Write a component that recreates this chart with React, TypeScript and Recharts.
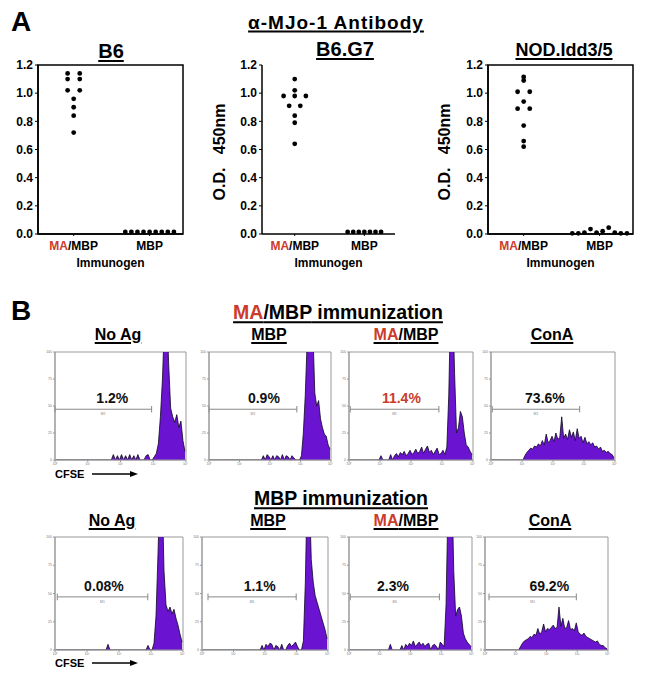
import React from 'react';
import {
  ScatterChart, Scatter, AreaChart, Area, XAxis, YAxis,
  ReferenceArea, ReferenceLine, ReferenceDot,
} from 'recharts';

const FONT = '"Liberation Sans", Arial, sans-serif';
const RED = '#cc3b2b';
const PURPLE = '#6a14d2';

// ---- panel A: anti-MJo-1 ELISA, O.D. 450nm per mouse ----
const immunogens = ['MA/MBP', 'MBP'];
const odTicks = [0, 0.2, 0.4, 0.6, 0.8, 1.0, 1.2];

const b6MaMbp = [1.14, 1.14, 1.10, 1.10, 1.02, 1.02, 0.96, 0.90, 0.84, 0.72];
const b6Mbp = [0.015, 0.015, 0.015, 0.015, 0.015, 0.015, 0.015, 0.015, 0.015];
const g7MaMbp = [1.10, 1.02, 0.98, 0.98, 0.98, 0.91, 0.91, 0.84, 0.79, 0.64];
const g7Mbp = [0.015, 0.015, 0.015, 0.015, 0.015, 0.015, 0.015];
const nodMaMbp = [1.115, 1.09, 1.01, 1.01, 0.94, 0.89, 0.89, 0.77, 0.66, 0.62];
const nodMbp = [0.005, 0.005, 0.01, 0.035, 0.01, 0.02, 0.045, 0.01, 0.005, 0.005];

// ---- panel B: CFSE histograms, 16 channels per decade (10^0 .. 10^4) ----
const decadeTicks = [0, 1, 2, 3, 4];
const decadeLabels = ['10\u2070', '10\u00b9', '10\u00b2', '10\u00b3', '10\u2074'];
const countTicks = [0, 25, 50, 75, 100];

const maNoAg = [
  0, 0, 0, 0, 0, 0, 0, 0, 0, 0, 0, 0, 0, 0, 0, 0,
  0, 0, 0, 0, 0, 0, 0, 0, 0, 0, 0, 0, 5, 0, 4, 0,
  5, 0, 4, 0, 5, 0, 4, 0, 5, 0, 0, 0, 4, 5, 0, 0,
  3, 6, 15, 40, 75, 130, 150, 90, 48, 40, 35, 42, 30, 36, 18, 8,
];
const maMbp = [
  0, 0, 0, 0, 0, 0, 0, 0, 0, 0, 0, 0, 0, 0, 0, 0,
  0, 0, 0, 0, 0, 0, 0, 0, 0, 0, 0, 0, 4, 0, 5, 3,
  0, 4, 0, 4, 3, 0, 5, 0, 4, 3, 0, 4, 2, 0, 0, 0,
  4, 25, 60, 110, 150, 150, 120, 62, 50, 55, 38, 30, 24, 22, 14, 10,
];
const maMaMbp = [
  0, 0, 0, 0, 0, 0, 0, 0, 0, 0, 0, 0, 0, 0, 0, 0,
  4, 0, 0, 0, 0, 5, 0, 4, 6, 3, 7, 5, 8, 4, 6, 9,
  5, 7, 10, 6, 8, 12, 6, 10, 13, 7, 9, 5, 8, 11, 5, 6,
  9, 5, 12, 60, 150, 150, 80, 25, 30, 45, 40, 25, 14, 12, 8, 5,
];
const maConA = [
  0, 0, 0, 0, 0, 0, 0, 0, 0, 0, 0, 0, 0, 0, 0, 0,
  0, 4, 7, 9, 11, 10, 13, 12, 15, 13, 18, 14, 24, 16, 18, 22,
  17, 25, 19, 21, 40, 20, 24, 19, 28, 21, 26, 18, 29, 20, 22, 16,
  21, 15, 17, 14, 16, 12, 13, 10, 12, 8, 9, 7, 8, 6, 5, 2,
];
const mbpNoAg = [
  0, 0, 0, 0, 0, 0, 0, 0, 0, 0, 0, 0, 0, 0, 0, 0,
  0, 0, 0, 0, 0, 0, 0, 0, 0, 0, 5, 0, 0, 0, 0, 0,
  0, 0, 0, 0, 0, 0, 0, 0, 0, 0, 0, 0, 0, 0, 4, 0,
  0, 6, 30, 85, 150, 150, 70, 40, 34, 38, 32, 36, 28, 22, 14, 7,
];
const mbpMbp = [
  0, 0, 0, 0, 0, 0, 0, 0, 0, 0, 0, 0, 0, 0, 0, 0,
  0, 0, 0, 0, 0, 0, 0, 0, 0, 0, 0, 0, 0, 0, 4, 0,
  5, 3, 6, 5, 0, 4, 3, 0, 5, 0, 0, 4, 6, 3, 5, 7,
  3, 0, 0, 8, 60, 150, 140, 80, 60, 48, 42, 36, 30, 24, 18, 10,
];
const mbpMaMbp = [
  0, 0, 0, 0, 0, 0, 0, 0, 0, 0, 0, 0, 0, 0, 0, 0,
  0, 0, 0, 0, 0, 5, 0, 0, 0, 0, 0, 4, 0, 5, 3, 6,
  4, 8, 3, 5, 7, 4, 6, 3, 5, 6, 0, 4, 5, 3, 0, 7,
  5, 3, 40, 130, 150, 150, 70, 30, 36, 38, 30, 15, 10, 7, 5, 3,
];
const mbpConA = [
  0, 0, 0, 0, 0, 0, 0, 0, 0, 0, 0, 0, 0, 0, 0, 0,
  0, 0, 3, 6, 8, 9, 10, 12, 11, 14, 13, 19, 14, 16, 23, 16,
  19, 18, 20, 22, 19, 20, 38, 21, 28, 19, 20, 26, 18, 19, 17, 24,
  16, 14, 13, 15, 12, 11, 10, 9, 8, 7, 8, 5, 4, 4, 2, 1,
];

// spread equal values sideways like a dot plot
function swarm(values: number[], cat: number, tol: number, step: number) {
  const order = values.map((v, i) => i).sort((a, b) => values[b] - values[a]);
  const groups: number[][] = [];
  order.forEach((i) => {
    const g = groups[groups.length - 1];
    if (g && Math.abs(values[g[0]] - values[i]) <= tol) g.push(i);
    else groups.push([i]);
  });
  return groups.flatMap((g) =>
    [...g].sort((a, b) => a - b).map((i, k) => ({
      x: cat + (k - (g.length - 1) / 2) * step,
      y: values[i],
    }))
  );
}

const T = ({ x, y, size, children, under, weight = 700, color = '#000', spacing = 0 }: any) => (
  <div
    style={{
      position: 'absolute', left: x, top: y, transform: 'translate(-50%, -50%)',
      fontSize: size, fontWeight: weight, color, whiteSpace: 'pre', lineHeight: 1,
      fontFamily: FONT, letterSpacing: spacing,
      textDecoration: under ? 'underline' : 'none',
      textDecorationThickness: 2, textUnderlineOffset: 2,
    }}
  >
    {children}
  </div>
);

const MaMbp = () => (
  <>
    <span style={{ color: RED }}>MA</span>/MBP
  </>
);

const ImmTick = (p: any) => {
  const name = immunogens[p.payload.value - 1];
  return (
    <text x={p.x} y={p.y} dy="0.75em" textAnchor="middle" fontSize={12} fontWeight={700} fontFamily={FONT}>
      {name.startsWith('MA/') ? (
        <>
          <tspan fill={RED}>MA</tspan>
          <tspan fill="#000">{name.slice(2)}</tspan>
        </>
      ) : (
        <tspan fill="#000">{name}</tspan>
      )}
    </text>
  );
};

const DotShape = (p: any) => <circle cx={p.cx} cy={p.cy} r={2.4} fill="#000" />;

function DotPlot({ left, right, ma, mbp, boxed }: any) {
  const w = right - left;
  const data = [...swarm(ma, 1, 0.015, 0.16), ...swarm(mbp, 2, 0.1, 0.08)];
  return (
    <div style={{ position: 'absolute', left: left - 30, top: 40 }}>
      <ScatterChart width={w + 34} height={230} margin={{ top: 25, right: 4, bottom: 0, left: 0 }}>
        <XAxis
          type="number" dataKey="x" domain={[0.53, 2.44]} ticks={[1, 2]} tick={ImmTick}
          tickSize={2} tickMargin={5} height={36}
          axisLine={{ stroke: '#000', strokeWidth: 1.5 }} tickLine={{ stroke: '#000' }}
          label={{ value: 'Immunogen', position: 'insideBottom', offset: 3, fontSize: 12, fontWeight: 600, fill: '#000', fontFamily: FONT }}
        />
        <YAxis
          type="number" dataKey="y" domain={[0, 1.2]} ticks={odTicks} width={30}
          tickFormatter={(v: number) => v.toFixed(1)} tickSize={3} tickMargin={2}
          tick={{ fontSize: 12, fontWeight: 700, fill: '#000', fontFamily: FONT }}
          axisLine={{ stroke: '#000', strokeWidth: 1.5 }} tickLine={{ stroke: '#000' }}
        />
        {boxed && (
          <ReferenceArea x1={0.53} x2={2.44} y1={0} y2={1.2} fill="none" stroke="#000" strokeWidth={1.5} />
        )}
        <Scatter data={data} shape={DotShape} isAnimationActive={false} />
      </ScatterChart>
    </div>
  );
}

function FlowHist({ counts, left, top, w, h, pct, pctColor = '#111', gate, labelAt }: any) {
  const data = counts.map((c: number, i: number) => ({ d: (i + 0.5) / 16, c }));
  const tiny = { fontSize: 3.5, fill: '#777', fontFamily: FONT };
  return (
    <div style={{ position: 'absolute', left: left - 10, top: top - 2 }}>
      <AreaChart width={w + 12} height={h + 12} data={data} margin={{ top: 2, right: 2, left: 0, bottom: 0 }}>
        <XAxis
          type="number" dataKey="d" domain={[0, 4]} ticks={decadeTicks} height={10}
          tickFormatter={(v: number) => decadeLabels[v]} tick={tiny} tickSize={2} tickMargin={1}
          axisLine={{ stroke: '#999' }} tickLine={{ stroke: '#999' }}
        />
        <YAxis
          type="number" domain={[0, 100]} ticks={countTicks} allowDataOverflow width={10}
          tick={tiny} tickSize={2} tickMargin={1}
          axisLine={{ stroke: '#999' }} tickLine={{ stroke: '#999' }}
        />
        <ReferenceArea x1={0} x2={4} y1={0} y2={100} fill="none" stroke="#999" />
        <Area
          type="linear" dataKey="c" stroke="#0e0620" strokeWidth={0.8} fill={PURPLE} fillOpacity={1}
          dot={false} activeDot={false} isAnimationActive={false}
        />
        <ReferenceLine segment={[{ x: gate[0], y: 47 }, { x: gate[1], y: 47 }]} stroke="#888" />
        <ReferenceLine segment={[{ x: gate[0], y: 44 }, { x: gate[0], y: 50 }]} stroke="#888" />
        <ReferenceLine segment={[{ x: gate[1], y: 44 }, { x: gate[1], y: 50 }]} stroke="#888" />
        <ReferenceDot
          x={(gate[0] + gate[1]) / 2} y={43} r={0.5} fill="none" stroke="none"
          label={{ value: 'M1', position: 'center', fontSize: 3.5, fill: '#888', fontFamily: FONT }}
        />
        <ReferenceDot
          x={labelAt} y={57} r={0.5} fill="none" stroke="none"
          label={{ value: pct, position: 'center', fontSize: 14, fontWeight: 700, fill: pctColor, fontFamily: FONT }}
        />
      </AreaChart>
    </div>
  );
}

const Cfse = ({ y }: { y: number }) => (
  <div style={{ position: 'absolute', left: 55, top: y - 7, display: 'flex', alignItems: 'center', fontFamily: FONT, fontWeight: 700, fontSize: 11 }}>
    <span>CFSE</span>
    <svg width={48} height={10} style={{ marginLeft: 8 }}>
      <line x1={0} y1={5} x2={40} y2={5} stroke="#000" strokeWidth={1.5} />
      <polygon points="38,2 46,5 38,8" fill="#000" />
    </svg>
  </div>
);

const odLabel: React.CSSProperties = {
  position: 'absolute', top: 152, transform: 'translate(-50%, -50%) rotate(-90deg)',
  fontFamily: FONT, fontWeight: 700, fontSize: 16, whiteSpace: 'pre',
};

export default function App() {
  return (
    <div style={{ position: 'absolute', left: 0, top: 0, width: 645, height: 680, background: '#fff', overflow: 'hidden', fontFamily: FONT }}>
      {/* Panel A */}
      <T x={21} y={22} size={28}>A</T>
      <T x={336} y={22} size={19} spacing={1} under>{'\u03b1-MJo-1 Antibody'}</T>
      <T x={111} y={51} size={20} under>B6</T>
      <T x={345} y={49} size={20} under>B6.G7</T>
      <T x={564} y={50} size={18} under>NOD.Idd3/5</T>
      <div style={{ ...odLabel, left: 220 }}>{'O.D.   450nm'}</div>
      <div style={{ ...odLabel, left: 445 }}>{'O.D.   450nm'}</div>
      <DotPlot left={38} right={183} ma={b6MaMbp} mbp={b6Mbp} boxed />
      <DotPlot left={262} right={395} ma={g7MaMbp} mbp={g7Mbp} boxed={false} />
      <DotPlot left={488} right={633} ma={nodMaMbp} mbp={nodMbp} boxed />

      {/* Panel B, row 1 */}
      <T x={21} y={311} size={28}>B</T>
      <T x={338} y={313} size={19.5} under><MaMbp /> immunization</T>
      <T x={118} y={335} size={16} under>No Ag</T>
      <T x={269} y={335} size={16} under>MBP</T>
      <T x={406} y={335} size={16} under><MaMbp /></T>
      <T x={552} y={335} size={16} under>ConA</T>
      <FlowHist counts={maNoAg} left={55} top={352} w={131} h={108} pct="1.2%" gate={[0, 2.95]} labelAt={1.75} />
      <FlowHist counts={maMbp} left={209} top={352} w={122} h={108} pct="0.9%" gate={[0, 2.88]} labelAt={1.8} />
      <FlowHist counts={maMaMbp} left={349} top={352} w={124} h={108} pct="11.4%" pctColor={RED} gate={[0.04, 2.9]} labelAt={1.69} />
      <FlowHist counts={maConA} left={491} top={352} w={124} h={108} pct="73.6%" gate={[0.04, 2.86]} labelAt={1.74} />
      <Cfse y={475} />

      {/* Panel B, row 2 */}
      <T x={341} y={499} size={19.5} under>MBP immunization</T>
      <T x={112} y={521} size={16} under>No Ag</T>
      <T x={268} y={521} size={16} under>MBP</T>
      <T x={406} y={521} size={16} under><MaMbp /></T>
      <T x={550} y={521} size={16} under>ConA</T>
      <FlowHist counts={mbpNoAg} left={55} top={537} w={128} h={113} pct="0.08%" gate={[0.07, 2.9]} labelAt={1.53} />
      <FlowHist counts={mbpMbp} left={202} top={537} w={126} h={113} pct="1.1%" gate={[0.19, 2.99]} labelAt={1.83} />
      <FlowHist counts={mbpMaMbp} left={349} top={537} w={123} h={113} pct="2.3%" gate={[0.04, 2.94]} labelAt={1.43} />
      <FlowHist counts={mbpConA} left={485} top={537} w={123} h={113} pct="69.2%" gate={[0.13, 2.97]} labelAt={2.09} />
      <Cfse y={664} />
    </div>
  );
}
